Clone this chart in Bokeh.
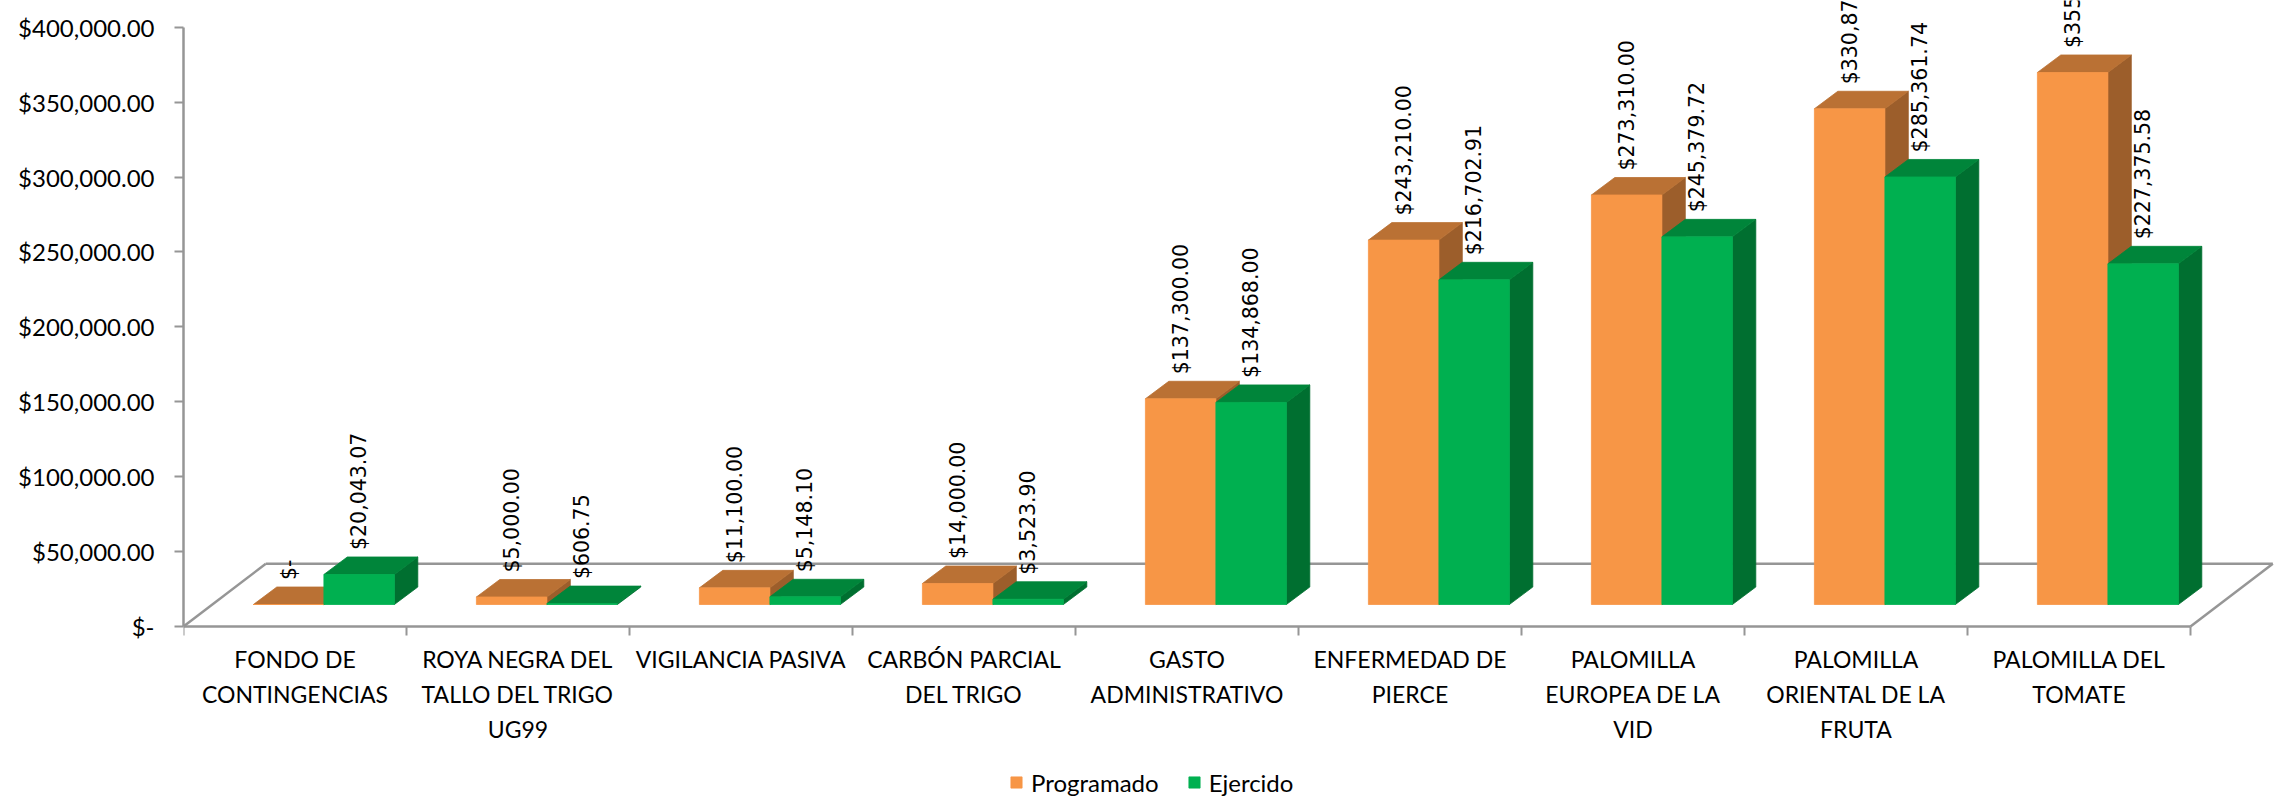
import math
from bokeh.plotting import figure
from bokeh.models import Range1d, FixedTicker, Legend, LegendItem, ColumnDataSource
from bokeh.core.properties import value
from bokeh.embed import file_html
from bokeh.resources import INLINE

# ---------------- data ----------------
categories = [
    "FONDO DE\nCONTINGENCIAS",
    "ROYA NEGRA DEL\nTALLO DEL TRIGO\nUG99",
    "VIGILANCIA PASIVA",
    "CARBÓN PARCIAL\nDEL TRIGO",
    "GASTO\nADMINISTRATIVO",
    "ENFERMEDAD DE\nPIERCE",
    "PALOMILLA\nEUROPEA DE LA\nVID",
    "PALOMILLA\nORIENTAL DE LA\nFRUTA",
    "PALOMILLA DEL\nTOMATE",
]
programado = [0, 5000.00, 11100.00, 14000.00, 137300.00, 243210.00, 273310.00, 330870.00, 355100.00]
ejercido = [20043.07, 606.75, 5148.10, 3523.90, 134868.00, 216702.91, 245379.72, 285361.74, 227375.58]
series_names = ["Programado", "Ejercido"]
y_ticks = [0, 50000, 100000, 150000, 200000, 250000, 300000, 350000, 400000]

# ---------------- layout / style ----------------
W, H = 2284, 800
LEFT, RIGHT, TOP, BOTTOM = 183, 8, 0, 0
frame_w = W - LEFT - RIGHT
frame_h = H - TOP - BOTTOM
PX_X = 223.0          # screen px per category
PX_Y = 1.49825e-3     # screen px per currency unit
ZERO_PX = 626.0       # screen y of the value 0 line (from top)
x_end = frame_w / PX_X
y_end = ZERO_PX / PX_Y
y_start = -(frame_h - ZERO_PX) / PX_Y

floor_dx = 82.3 / PX_X
floor_dy = 62.7 / PX_Y
base = 22.0 / PX_Y
bar_dx = 23.4 / PX_X
bar_dy = 17.5 / PX_Y
bar_w = 70.5 / PX_X
shift = 28.9 / PX_X

front_cols = ["#F79646", "#00B050"]
top_cols = ["#BA7134", "#00853A"]
side_cols = ["#9C5E2B", "#006F30"]
grey = "#969696"


def money(v):
    return "$-" if v == 0 else "${:,.2f}".format(v)


n = len(categories)
p = figure(width=W, height=H, output_backend="svg", toolbar_location=None,
           x_range=Range1d(0, x_end), y_range=Range1d(y_start, y_end),
           min_border_left=LEFT, min_border_right=RIGHT,
           min_border_top=TOP, min_border_bottom=BOTTOM)
p.outline_line_color = None
p.xgrid.visible = False
p.ygrid.visible = False
p.background_fill_color = "white"
p.border_fill_color = "white"

# floor outline (back edge and sides)
p.multi_line(xs=[[floor_dx, n + floor_dx], [0, floor_dx], [n, n + floor_dx]],
             ys=[[floor_dy, floor_dy], [0, floor_dy], [0, floor_dy]],
             line_color=grey, line_width=2.5)

legend_items = []
for s, vals in enumerate([programado, ejercido]):
    lefts, rights, bottoms, tops = [], [], [], []
    txs, tys, sxs, sys_ = [], [], [], []
    for i, v in enumerate(vals):
        c = i + 0.5 + shift
        x0 = c - bar_w if s == 0 else c
        x1 = x0 + bar_w
        y0 = base
        y1 = base + v
        lefts.append(x0); rights.append(x1); bottoms.append(y0); tops.append(y1)
        txs.append([x0, x1, x1 + bar_dx, x0 + bar_dx])
        tys.append([y1, y1, y1 + bar_dy, y1 + bar_dy])
        sxs.append([x1, x1 + bar_dx, x1 + bar_dx, x1])
        sys_.append([y0, y0 + bar_dy, y1 + bar_dy, y1])
    p.patches(xs=sxs, ys=sys_, fill_color=side_cols[s], line_color=side_cols[s], line_width=0.8)
    p.patches(xs=txs, ys=tys, fill_color=top_cols[s], line_color=top_cols[s], line_width=0.8)
    r = p.quad(left=lefts, right=rights, bottom=bottoms, top=tops,
               fill_color=front_cols[s], line_color=front_cols[s], line_width=0.8)
    legend_items.append(LegendItem(label=series_names[s], renderers=[r]))

# data labels
for s, vals in enumerate([programado, ejercido]):
    lx, ly, lt = [], [], []
    for i, v in enumerate(vals):
        c = i + 0.5 + shift
        x0 = c - bar_w if s == 0 else c
        lx.append(x0 + bar_w / 2)
        ly.append(base + v + bar_dy)
        lt.append(money(v))
    src = ColumnDataSource(dict(x=lx, y=ly, t=lt))
    p.text(x="x", y="y", text="t", source=src, angle=math.pi / 2,
           text_align="left", text_baseline="middle", y_offset=-7,
           text_font=value("DejaVu Sans"), text_font_size="20.5px", text_color="#000000")

# y axis
ya = p.yaxis[0]
ya.ticker = FixedTicker(ticks=y_ticks, minor_ticks=[])
ya.major_label_overrides = {t: money(t) for t in y_ticks}
ya.bounds = (0, y_ticks[-1])
ya.axis_line_color = grey
ya.axis_line_width = 2.5
ya.major_tick_line_color = grey
ya.major_tick_line_width = 2
ya.major_tick_out = 9
ya.major_tick_in = 0
ya.minor_tick_line_color = None
ya.major_label_standoff = 20
ya.major_label_text_font = "Lato"
ya.major_label_text_font_size = "24px"
ya.major_label_text_color = "#000000"

# x axis, pinned at value 0
xa = p.xaxis[0]
xa.fixed_location = 0
xa.ticker = FixedTicker(ticks=[i + 0.5 for i in range(n)], minor_ticks=list(range(n + 1)))
xa.major_label_overrides = {i + 0.5: categories[i] for i in range(n)}
xa.bounds = (0, n)
xa.axis_line_color = grey
xa.axis_line_width = 2.5
xa.major_tick_line_color = None
xa.major_tick_out = 0
xa.major_tick_in = 0
xa.minor_tick_line_color = grey
xa.minor_tick_line_width = 2
xa.minor_tick_out = 9
xa.minor_tick_in = 0
xa.major_label_standoff = 9
xa.major_label_text_font = "Lato"
xa.major_label_text_font_size = "23px"
xa.major_label_text_line_height = 1.26
xa.major_label_text_color = "#000000"

legend = Legend(items=legend_items, orientation="horizontal",
                location=(826, 3), glyph_width=14, glyph_height=14,
                label_standoff=8, spacing=28, padding=0, margin=0,
                label_height=30, label_text_baseline="alphabetic",
                label_text_font="Lato", label_text_font_size="24px",
                label_text_color="#000000",
                border_line_alpha=0, background_fill_alpha=0)
p.add_layout(legend, "center")

open("out.html", "w").write(file_html(p, INLINE))
